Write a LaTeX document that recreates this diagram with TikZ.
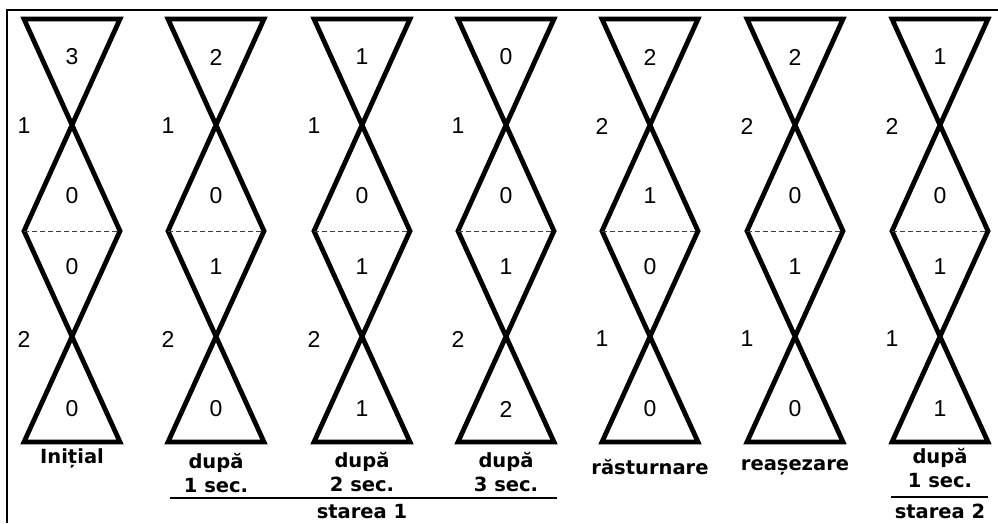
\documentclass[tikz,border=0pt]{standalone}
\usepackage{fontspec}
\setmainfont{Liberation Sans}
\newfontfamily\lblfont{DejaVu Sans}
\usetikzlibrary{math}

\begin{document}
\begin{tikzpicture}[x=1pt,y=-1pt,
  glass/.style={line width=4.8pt, line join=miter},
  mid/.style={line width=1pt, black!75, dash pattern=on 5pt off 3pt},
  num/.style={font=\fontsize{23}{23}\selectfont},
  lbl/.style={font=\lblfont\bfseries\fontsize{19.5}{24}\selectfont, align=center, inner sep=0pt},
  bar/.style={line width=2.8pt}]
\tikzmath{
\w=48; \ya=19; \yb=231; \yc=442;
}
\useasboundingbox (0,0) rectangle (998,523);
\draw[line width=2.5pt] (7,523) -- (7,10) -- (998,10);

% hourglasses: center / top / upper mid / lower mid / bottom / left up / left down
\foreach \c/\t/\m/\n/\b/\p/\q [count=\i] in {72/3/0/0/0/1/2, 216/2/0/1/0/1/2,
    362/1/0/1/1/1/2, 506/0/0/1/2/1/2, 650/2/1/0/0/2/1, 795/2/0/1/0/2/1, 940/1/0/1/1/2/1}{
\draw[glass] (\c-\w,\ya) -- (\c+\w,\ya) -- (\c-\w,\yb) -- (\c+\w,\yc)
  -- (\c-\w,\yc) -- (\c+\w,\yb) -- cycle;
\draw[mid] (\c-\w,\yb) -- (\c+\w,\yb);
\node[num] (top\i) at (\c,57) {\t};
\node[num] (um\i) at (\c,196) {\m};
\node[num] (lm\i) at (\c,267) {\n};
\node[num] (bot\i) at (\c,409) {\b};
\node[num] (lu\i) at (\c-48,126) {\p};
\node[num] (ld\i) at (\c-48,339) {\q};
}

\node[lbl] (ini) at (72,458) {Inițial};
\node[lbl] (d1) at (216,473) {după\\1 sec.};
\node[lbl] (d2) at (362,472) {după\\2 sec.};
\node[lbl] (d3) at (506,472) {după\\3 sec.};
\node[lbl] (ras) at (650,467) {răsturnare};
\node[lbl] (rea) at (795,467) {reașezare};
\node[lbl] (d4) at (940,468) {după\\1 sec.};

\coordinate (s1a) at (170,498);
\coordinate (s1b) at (557,498);
\draw[bar] (s1a) -- (s1b);
\node[lbl] (st1) at (362,512) {starea 1};
\coordinate (s2a) at (891,497);
\coordinate (s2b) at (988,497);
\draw[bar] (s2a) -- (s2b);
\node[lbl] (st2) at (940,511) {starea 2};
\end{tikzpicture}
\end{document}
